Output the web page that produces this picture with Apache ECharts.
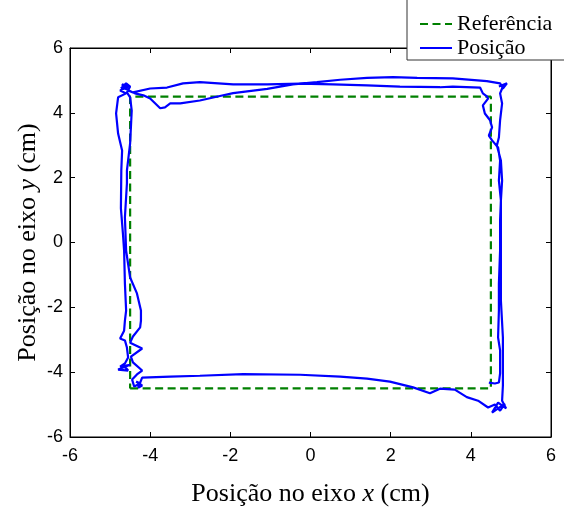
<!DOCTYPE html>
<html>
<head>
<meta charset="utf-8">
<script src="https://cdn.jsdelivr.net/npm/echarts@6/dist/echarts.min.js"></script>
<style>html,body{margin:0;padding:0;background:#fff;}#c{width:564px;height:513px;}</style>
</head>
<body>
<div id="c"></div>
<script>
// Reference square path (cm)
var refX = [-4.5, 4.5, 4.5, -4.5, -4.5];
var refY = [-4.5, -4.5, 4.5, 4.5, -4.5];

var posX = [4.45,4.60,4.70,4.73,4.73,4.73,4.68,4.70,4.70,4.73,4.73,4.75,4.70,4.73,4.68,4.53,4.45,4.53,4.48,4.35,4.30,4.43,4.40,4.30,4.23,
  3.55,3.23,2.23,1.41,0.56,-0.26,-1.08,-1.93,-2.76,-3.18,-3.58,-4.00,-4.43,
  -4.55,-4.65,-4.73,-4.60,-4.50,-4.58,-4.50,
  -4.46,-4.50,-4.58,-4.58,-4.63,-4.60,-4.50,-4.33,-4.23,-4.23,-4.25,-4.43,-4.50,-4.20,-4.48,-4.43,-4.20,-4.33,-4.45,
  -4.40,-4.25,-4.35,-4.20,-4.30,-4.20,
  -3.50,-2.76,-1.68,-0.26,0.74,1.41,1.98,2.56,2.98,3.23,3.60,3.90,4.18,4.43,
  4.60,4.73,4.85,4.53,4.68,4.88,4.78,
  4.80,4.80,4.80,4.75,4.75,4.75,4.78,4.75,4.65,4.70,4.73,4.78,4.73,4.78,
  4.85,4.70,4.90,4.80,4.73,
  4.40,3.55,2.66,2.06,1.41,0.74,0.16,-0.44,-1.08,-1.93,-2.26,-2.76,-3.25,-3.50,-3.63,-3.75,-4.00,-4.17,-4.38,
  -4.63,-4.70,-4.55,-4.75,-4.60,
  -4.80,-4.85,-4.80,-4.70,-4.72,-4.73,-4.68,-4.65,-4.63,-4.60,-4.63,-4.65,-4.75,-4.63,-4.58,-4.55,-4.63,
  -4.75,-4.50,-4.80,-4.55,-4.65];
var posY = [-4.32,-4.35,-4.32,-4.04,-3.64,-3.33,-2.93,-2.10,-1.27,-0.25,0.68,1.30,1.91,2.53,2.93,3.15,3.30,3.55,3.77,3.98,4.23,4.44,4.51,4.60,4.78,
  4.81,4.79,4.81,4.85,4.88,4.90,4.88,4.88,4.95,4.91,4.78,4.75,4.63,
  4.69,4.85,4.75,4.91,4.81,4.63,4.48,
  4.07,3.06,2.22,1.82,0.77,-0.25,-1.08,-1.57,-2.10,-2.41,-2.62,-2.90,-3.09,-3.27,-3.52,-3.70,-3.95,-4.07,-4.23,
  -4.44,-4.35,-4.29,-4.41,-4.48,-4.17,
  -4.14,-4.11,-4.06,-4.08,-4.14,-4.20,-4.29,-4.47,-4.65,-4.51,-4.54,-4.77,-4.88,-5.09,
  -5.00,-5.19,-4.97,-5.25,-4.94,-5.12,-4.88,
  -4.41,-3.64,-2.93,-1.79,-0.25,1.30,1.91,2.53,2.99,3.24,3.77,4.29,4.60,4.75,
  4.88,4.81,4.91,4.75,4.91,
  4.98,5.06,5.08,5.10,5.08,5.02,4.95,4.88,4.74,4.61,4.52,4.38,4.29,4.29,4.17,4.14,4.44,4.54,4.60,
  4.75,4.88,4.81,4.69,4.60,
  4.48,3.98,3.36,2.84,2.22,1.05,0.28,-0.25,-1.27,-2.10,-2.41,-2.72,-2.96,-3.02,-3.24,-3.55,-3.73,
  -3.83,-3.77,-3.92,-3.95,-3.80];

var axisMin = -6, axisMax = 6, axisStep = 2;
var seriesNames = ['Referência', 'Posição'];

function zip(a, b) { var o = []; for (var i = 0; i < a.length; i++) o.push([a[i], b[i]]); return o; }

var chart = echarts.init(document.getElementById('c'), null, {renderer: 'canvas'});
var tickFont = {fontFamily: 'Liberation Sans, Arial, sans-serif', fontSize: 18, color: '#000'};
var serif = 'Liberation Serif, Times New Roman, serif';
var titleRich = {
  n: {fontFamily: serif, fontSize: 26, color: '#000'},
  i: {fontFamily: serif, fontSize: 26, fontStyle: 'italic', color: '#000'}
};

function mkAxis(pos, show) {
  return {
    type: 'value', position: pos, min: axisMin, max: axisMax, interval: axisStep,
    axisLine: {show: true, onZero: false, lineStyle: {color: '#000', width: 1}},
    axisTick: {show: true, inside: true, length: 5, lineStyle: {color: '#000'}},
    axisLabel: show ? Object.assign({margin: 10}, tickFont) : {show: false},
    splitLine: {show: false}
  };
}

var xMain = mkAxis('bottom', true);
xMain.name = '{n|Posição no eixo }{i|x}{n| (cm)}';
xMain.nameLocation = 'middle';
xMain.nameGap = 44;
xMain.nameMoveOverlap = false;
xMain.nameTextStyle = {rich: titleRich};
var yMain = mkAxis('left', true);
yMain.axisLabel.margin = 7;
yMain.name = '{n|Posição no eixo }{i|y}{n| (cm)}';
yMain.nameLocation = 'middle';
yMain.nameGap = 29;
yMain.nameMoveOverlap = false;
yMain.nameTextStyle = {rich: titleRich};

chart.setOption({
  animation: false,
  backgroundColor: '#fff',
  grid: {left: 70, right: 13, top: 48, bottom: 76, show: true, borderColor: '#000', borderWidth: 1},
  xAxis: [xMain, mkAxis('top', false)],
  yAxis: [yMain, mkAxis('right', false)],
  legend: {
    orient: 'vertical', left: 407, top: -2,
    padding: [15, 60, 1, 12], itemGap: 2, itemWidth: 32, itemHeight: 14,
    backgroundColor: '#fff', borderColor: '#333', borderWidth: 1, borderRadius: 0,
    itemStyle: {opacity: 0},
    textStyle: {fontFamily: serif, fontSize: 22, color: '#000', lineHeight: 22},
    data: seriesNames
  },
  series: [
    {name: seriesNames[0], type: 'line', xAxisIndex: 0, yAxisIndex: 0, data: zip(refX, refY), showSymbol: false, symbol: 'none',
     lineStyle: {color: '#008000', width: 2.2, type: [8, 4.5]}, itemStyle: {color: '#008000'}, z: 2},
    {name: seriesNames[1], type: 'line', xAxisIndex: 0, yAxisIndex: 0, data: zip(posX, posY), showSymbol: false, symbol: 'none',
     lineStyle: {color: '#0000ff', width: 2.2}, itemStyle: {color: '#0000ff'}, z: 3}
  ]
});
</script>
</body>
</html>
